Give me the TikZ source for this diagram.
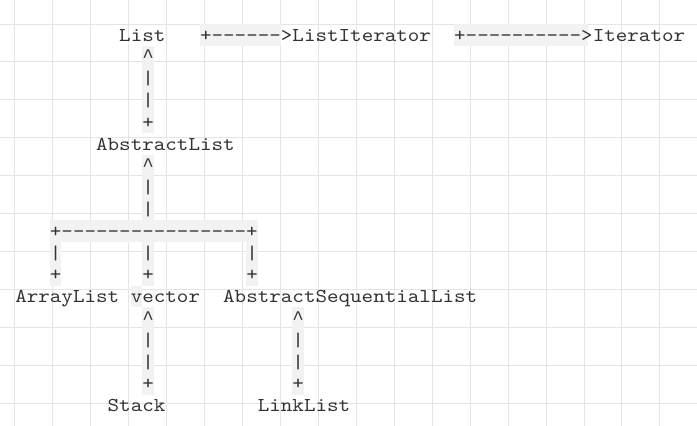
\documentclass[tikz,border=0pt]{standalone}
\usepackage{fontspec}
\setmonofont{lmmono10-regular.otf}[FakeStretch=1.12]
\newfontfamily\caretfont{Liberation Mono}
\usepackage{xcolor}
\definecolor{txtgray}{HTML}{333333}
\definecolor{hlgray}{HTML}{F2F2F2}
\definecolor{gridgray}{HTML}{E4E4E4}
\newcommand{\upmark}{{\caretfont\fontsize{14.44pt}{16pt}\selectfont\char"5E\relax}}

\begin{document}
\begin{tikzpicture}[x=8.6625pt,y=-16.35pt,
  txt/.style={anchor=base west,inner sep=0pt,text=txtgray,
    font=\ttfamily\fontsize{14.73pt}{16pt}\selectfont},
  hl/.style={fill=hlgray}]
\useasboundingbox (-1.2987,-1.1009) rectangle (59.048,18.440);
\fill[white] (-1.2987,-1.1009) rectangle (59.048,18.440);
\draw[gridgray,line width=0.75pt] (-1.2987,-1.1009) grid (59.048,18.440);
% highlighted cells
\foreach \c/\r in {11/1,11/2,11/3,11/4,11/6,11/7,11/8,3/10,3/11,11/10,11/11,20/10,20/11,
  10/12,11/13,11/14,11/15,11/16,24/13,24/14,24/15,24/16}
  \fill[hl] (\c,\r) rectangle (\c+1,\r+1);
\fill[hl] (16,0) rectangle (23,1);
\fill[hl] (38,0) rectangle (49.6,1);
\fill[hl] (3,9) rectangle (21,10);
% top row
\node[txt] (list) at (9,0.78) {List};
\node[txt] (toListIt) at (16,0.78) {+------>};
\node[txt] (listIt) at (24,0.78) {ListIterator};
\node[txt] (toIter) at (38,0.78) {+---------->};
\node[txt] (iter) at (50,0.78) {Iterator};
\node[txt] (absList) at (7,5.78) {AbstractList};
\node[txt] (split) at (3,9.78) {+----------------+};
\node[txt] (arrList) at (0,12.78) {ArrayList};
\node[txt] (vector) at (10,12.78) {vector};
\node[txt] (absSeq) at (18,12.78) {AbstractSequentialList};
\node[txt] (stack) at (8,17.78) {Stack};
\node[txt] (linkList) at (21,17.78) {LinkList};
% vertical links
\foreach \c/\r/\s in {11/1/\upmark,11/2/|,11/3/|,11/4/+,11/6/\upmark,11/7/|,11/8/|,
  3/10/|,3/11/+,11/10/|,11/11/+,20/10/|,20/11/+,
  11/13/\upmark,11/14/|,11/15/|,11/16/+,24/13/\upmark,24/14/|,24/15/|,24/16/+}
  \node[txt] (c\c r\r) at (\c,\r+0.78) {\s};
\end{tikzpicture}
\end{document}
